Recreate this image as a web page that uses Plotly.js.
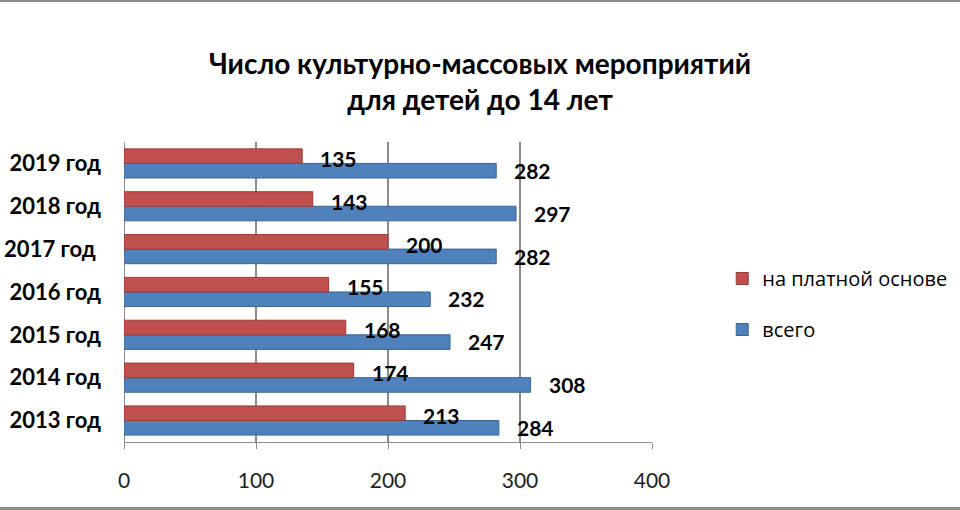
<!DOCTYPE html>
<html><head><meta charset="utf-8">
<script src="https://cdn.plot.ly/plotly-3.0.1.min.js"></script>
<style>
html,body{margin:0;padding:0;background:#fff;}
#chart{width:960px;height:510px;box-sizing:border-box;border-top:2px solid #8c8c8c;border-bottom:3px solid #8c8c8c;}
</style></head>
<body><div id="chart"></div>
<script>
const categories = ["2013 год","2014 год","2015 год","2016 год","2017 год ","2018 год","2019 год"];
const vsego = [284, 308, 247, 232, 282, 297, 282];
const platno = [213, 174, 168, 155, 200, 143, 135];
const tickVals = [0,100,200,300,400];

const font = "Lato, 'Open Sans', sans-serif";
const traces = [
  {type:'bar', orientation:'h', name:'всего', y:categories, x:vsego, legendrank:2, legendgroup:'b',
   marker:{color:'#4F81BD', line:{color:'#3A6496', width:1}}, hoverinfo:'x'},
  {type:'bar', orientation:'h', name:'на платной основе', y:categories, x:platno, legendrank:1, legendgroup:'a',
   marker:{color:'#C0504D', line:{color:'#9A3B38', width:1}}, hoverinfo:'x'}
];
const annotations = [];
categories.forEach((c,i)=>{
  annotations.push({x:platno[i], y:c, text:String(platno[i]), showarrow:false, xanchor:'left', xshift:16, yshift:5,
    font:{family:font, size:21, color:'#000', weight:'bold'}});
  annotations.push({x:vsego[i], y:c, text:String(vsego[i]), showarrow:false, xanchor:'left', xshift:16, yshift:-7,
    font:{family:font, size:21, color:'#000', weight:'bold'}});
});
const layout = {
  width:960, height:505,
  margin:{l:124, r:308, t:140, b:65, autoexpand:false},
  paper_bgcolor:'#fff', plot_bgcolor:'#fff',
  title:{text:'<b>Число культурно-массовых мероприятий<br>для детей до 14 лет</b>', x:0.5, xanchor:'center', y:0.858, yanchor:'middle',
    font:{family:font, size:28, color:'#000'}},
  barmode:'group', bargap:0.32, bargroupgap:0,
  xaxis:{range:[0,400], tickvals:tickVals, showgrid:true, gridcolor:'#8c8c8c', gridwidth:1.2,
    zeroline:true, zerolinecolor:'#8c8c8c', showline:true, linecolor:'#8c8c8c', linewidth:1.2,
    ticks:'outside', ticklen:6, tickcolor:'#8c8c8c', ticklabelstandoff:14,
    tickfont:{family:font, size:21, color:'#222'}, fixedrange:true},
  yaxis:{showgrid:false, zeroline:false, showline:false, ticks:'', ticklabelstandoff:22,
    tickfont:{family:font, size:22, color:'#000', weight:'bold'}, fixedrange:true},
  legend:{x:1.133, xanchor:'left', y:0.46, yanchor:'middle', traceorder:'grouped', tracegroupgap:22,
    font:{family:"'Open Sans', sans-serif", size:20, color:'#000'}, bgcolor:'rgba(0,0,0,0)'},
  annotations:annotations,
  showlegend:true
};
Plotly.newPlot('chart', traces, layout, {displayModeBar:false, staticPlot:true});
</script></body></html>
